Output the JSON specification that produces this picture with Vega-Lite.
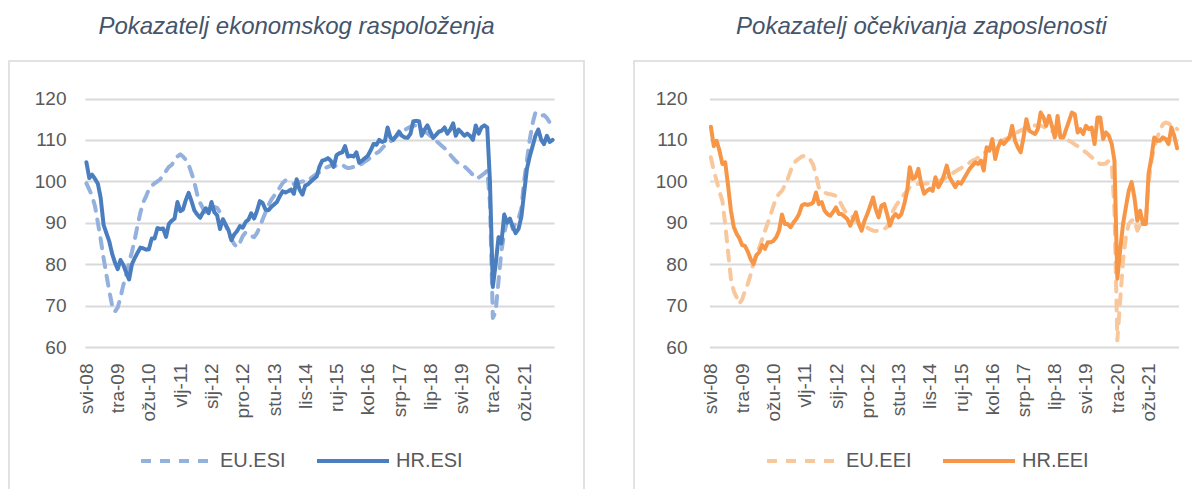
{
"$schema": "https://vega.github.io/schema/vega-lite/v6.json",
"background": "white",
"padding": {"left": 8, "top": 14, "right": 0, "bottom": 0},
"spacing": 48,
"config": {"font": "Liberation Sans", "view": {"stroke": "#d9d9d9", "strokeWidth": 1.5}},
"data": {"values": [
{"d":"2008-05-01","EU_ESI":99.5,"HR_ESI":104.6,"EU_EEI":105.8,"HR_EEI":113.2},
{"d":"2008-06-01","EU_ESI":98,"HR_ESI":100.8,"EU_EEI":102.5,"HR_EEI":108.5},
{"d":"2008-07-01","EU_ESI":96.5,"HR_ESI":101.6,"EU_EEI":100.2,"HR_EEI":109.8},
{"d":"2008-08-01","EU_ESI":94,"HR_ESI":100.6,"EU_EEI":97.5,"HR_EEI":107.4},
{"d":"2008-09-01","EU_ESI":90,"HR_ESI":99.4,"EU_EEI":95.3,"HR_EEI":104.2},
{"d":"2008-10-01","EU_ESI":86,"HR_ESI":96,"EU_EEI":89.7,"HR_EEI":104.6},
{"d":"2008-11-01","EU_ESI":81.5,"HR_ESI":89.5,"EU_EEI":83,"HR_EEI":99},
{"d":"2008-12-01","EU_ESI":77.5,"HR_ESI":87.5,"EU_EEI":76.5,"HR_EEI":93},
{"d":"2009-01-01","EU_ESI":73.5,"HR_ESI":85.5,"EU_EEI":73.5,"HR_EEI":89},
{"d":"2009-02-01","EU_ESI":70,"HR_ESI":82.5,"EU_EEI":72,"HR_EEI":87.3},
{"d":"2009-03-01","EU_ESI":68.5,"HR_ESI":80.5,"EU_EEI":70.4,"HR_EEI":86.3},
{"d":"2009-04-01","EU_ESI":69.5,"HR_ESI":78.8,"EU_EEI":71.5,"HR_EEI":84.6},
{"d":"2009-05-01","EU_ESI":72,"HR_ESI":81,"EU_EEI":73.5,"HR_EEI":84.4},
{"d":"2009-06-01","EU_ESI":75,"HR_ESI":79.8,"EU_EEI":75.3,"HR_EEI":83},
{"d":"2009-07-01","EU_ESI":77.5,"HR_ESI":78,"EU_EEI":77.5,"HR_EEI":81.2},
{"d":"2009-08-01","EU_ESI":80.5,"HR_ESI":76.3,"EU_EEI":80.5,"HR_EEI":80},
{"d":"2009-09-01","EU_ESI":83,"HR_ESI":80,"EU_EEI":82.5,"HR_EEI":82.2},
{"d":"2009-10-01","EU_ESI":86,"HR_ESI":81.5,"EU_EEI":84,"HR_EEI":82.9},
{"d":"2009-11-01","EU_ESI":89.5,"HR_ESI":82.8,"EU_EEI":86,"HR_EEI":84.6},
{"d":"2009-12-01","EU_ESI":92.5,"HR_ESI":84,"EU_EEI":88,"HR_EEI":83.7},
{"d":"2010-01-01","EU_ESI":95,"HR_ESI":83.8,"EU_EEI":90,"HR_EEI":85.3},
{"d":"2010-02-01","EU_ESI":96.5,"HR_ESI":83.5,"EU_EEI":92,"HR_EEI":85.3},
{"d":"2010-03-01","EU_ESI":98,"HR_ESI":83.6,"EU_EEI":94,"HR_EEI":85.6},
{"d":"2010-04-01","EU_ESI":99,"HR_ESI":86.2,"EU_EEI":96,"HR_EEI":86.5},
{"d":"2010-05-01","EU_ESI":99.5,"HR_ESI":86.2,"EU_EEI":97,"HR_EEI":88.1},
{"d":"2010-06-01","EU_ESI":100,"HR_ESI":88.7,"EU_EEI":97.7,"HR_EEI":92},
{"d":"2010-07-01","EU_ESI":100.5,"HR_ESI":88.5,"EU_EEI":99,"HR_EEI":89.7},
{"d":"2010-08-01","EU_ESI":101.5,"HR_ESI":88.6,"EU_EEI":100.5,"HR_EEI":89.7},
{"d":"2010-09-01","EU_ESI":102.5,"HR_ESI":86.6,"EU_EEI":102.5,"HR_EEI":88.9},
{"d":"2010-10-01","EU_ESI":103.5,"HR_ESI":89.7,"EU_EEI":104.2,"HR_EEI":90},
{"d":"2010-11-01","EU_ESI":104,"HR_ESI":90.5,"EU_EEI":105,"HR_EEI":90.9},
{"d":"2010-12-01","EU_ESI":105,"HR_ESI":91,"EU_EEI":105.5,"HR_EEI":92.1},
{"d":"2011-01-01","EU_ESI":106,"HR_ESI":95,"EU_EEI":106,"HR_EEI":94.2},
{"d":"2011-02-01","EU_ESI":106.5,"HR_ESI":92.8,"EU_EEI":106.2,"HR_EEI":94.5},
{"d":"2011-03-01","EU_ESI":106,"HR_ESI":93.2,"EU_EEI":106,"HR_EEI":94.3},
{"d":"2011-04-01","EU_ESI":105.2,"HR_ESI":95.5,"EU_EEI":105.2,"HR_EEI":94.5},
{"d":"2011-05-01","EU_ESI":104,"HR_ESI":97.2,"EU_EEI":104,"HR_EEI":94.9},
{"d":"2011-06-01","EU_ESI":102,"HR_ESI":95.2,"EU_EEI":101.5,"HR_EEI":97.3},
{"d":"2011-07-01","EU_ESI":99.8,"HR_ESI":93,"EU_EEI":98.5,"HR_EEI":94.5},
{"d":"2011-08-01","EU_ESI":96.8,"HR_ESI":92,"EU_EEI":97.5,"HR_EEI":95},
{"d":"2011-09-01","EU_ESI":94.8,"HR_ESI":91.2,"EU_EEI":97.3,"HR_EEI":92.9},
{"d":"2011-10-01","EU_ESI":93.5,"HR_ESI":92.5,"EU_EEI":97,"HR_EEI":92.1},
{"d":"2011-11-01","EU_ESI":92.3,"HR_ESI":93.5,"EU_EEI":96.9,"HR_EEI":91.7},
{"d":"2011-12-01","EU_ESI":92.5,"HR_ESI":92.3,"EU_EEI":96.7,"HR_EEI":92.6},
{"d":"2012-01-01","EU_ESI":93.2,"HR_ESI":95,"EU_EEI":96.5,"HR_EEI":93.7},
{"d":"2012-02-01","EU_ESI":93.8,"HR_ESI":92.5,"EU_EEI":95.5,"HR_EEI":92.1},
{"d":"2012-03-01","EU_ESI":93.6,"HR_ESI":91.8,"EU_EEI":94.3,"HR_EEI":92.1},
{"d":"2012-04-01","EU_ESI":92.5,"HR_ESI":88.5,"EU_EEI":93,"HR_EEI":91.5},
{"d":"2012-05-01","EU_ESI":91,"HR_ESI":90.8,"EU_EEI":92.1,"HR_EEI":90.9},
{"d":"2012-06-01","EU_ESI":89.5,"HR_ESI":89.5,"EU_EEI":91.7,"HR_EEI":89.3},
{"d":"2012-07-01","EU_ESI":87.5,"HR_ESI":88.2,"EU_EEI":91.3,"HR_EEI":90.9},
{"d":"2012-08-01","EU_ESI":86,"HR_ESI":85.8,"EU_EEI":90.5,"HR_EEI":92.5},
{"d":"2012-09-01","EU_ESI":84.8,"HR_ESI":87.2,"EU_EEI":89.9,"HR_EEI":89.7},
{"d":"2012-10-01","EU_ESI":84.1,"HR_ESI":88,"EU_EEI":89.5,"HR_EEI":88.1},
{"d":"2012-11-01","EU_ESI":85.2,"HR_ESI":89.2,"EU_EEI":89,"HR_EEI":90.5},
{"d":"2012-12-01","EU_ESI":86.8,"HR_ESI":88.8,"EU_EEI":88.8,"HR_EEI":92.1},
{"d":"2013-01-01","EU_ESI":87.7,"HR_ESI":90.2,"EU_EEI":88.4,"HR_EEI":94.1},
{"d":"2013-02-01","EU_ESI":87.3,"HR_ESI":90.8,"EU_EEI":88.1,"HR_EEI":96.1},
{"d":"2013-03-01","EU_ESI":86.8,"HR_ESI":92.3,"EU_EEI":88,"HR_EEI":93.3},
{"d":"2013-04-01","EU_ESI":86.5,"HR_ESI":91,"EU_EEI":88.1,"HR_EEI":91.3},
{"d":"2013-05-01","EU_ESI":87.5,"HR_ESI":92.8,"EU_EEI":88.3,"HR_EEI":94.1},
{"d":"2013-06-01","EU_ESI":89,"HR_ESI":95.2,"EU_EEI":88.5,"HR_EEI":94.5},
{"d":"2013-07-01","EU_ESI":90.8,"HR_ESI":94.8,"EU_EEI":89,"HR_EEI":92.1},
{"d":"2013-08-01","EU_ESI":92.5,"HR_ESI":93.2,"EU_EEI":90.5,"HR_EEI":89.3},
{"d":"2013-09-01","EU_ESI":94.2,"HR_ESI":93,"EU_EEI":92.8,"HR_EEI":91.3},
{"d":"2013-10-01","EU_ESI":95.5,"HR_ESI":93.8,"EU_EEI":94,"HR_EEI":92.1},
{"d":"2013-11-01","EU_ESI":96.5,"HR_ESI":94.4,"EU_EEI":95,"HR_EEI":91.3},
{"d":"2013-12-01","EU_ESI":97.3,"HR_ESI":95,"EU_EEI":96,"HR_EEI":92.1},
{"d":"2014-01-01","EU_ESI":98.5,"HR_ESI":96.4,"EU_EEI":96.9,"HR_EEI":94.5},
{"d":"2014-02-01","EU_ESI":99.6,"HR_ESI":97.6,"EU_EEI":97.8,"HR_EEI":97.7},
{"d":"2014-03-01","EU_ESI":100.2,"HR_ESI":97.3,"EU_EEI":98.6,"HR_EEI":103.4},
{"d":"2014-04-01","EU_ESI":100,"HR_ESI":97.6,"EU_EEI":98.9,"HR_EEI":100.6},
{"d":"2014-05-01","EU_ESI":99.5,"HR_ESI":98,"EU_EEI":99.2,"HR_EEI":101},
{"d":"2014-06-01","EU_ESI":99.4,"HR_ESI":97,"EU_EEI":99.4,"HR_EEI":103},
{"d":"2014-07-01","EU_ESI":99.5,"HR_ESI":100.5,"EU_EEI":99.4,"HR_EEI":99.4},
{"d":"2014-08-01","EU_ESI":99.8,"HR_ESI":98,"EU_EEI":99.4,"HR_EEI":97},
{"d":"2014-09-01","EU_ESI":100,"HR_ESI":96.8,"EU_EEI":99.5,"HR_EEI":97.7},
{"d":"2014-10-01","EU_ESI":99.8,"HR_ESI":99,"EU_EEI":99.6,"HR_EEI":98.2},
{"d":"2014-11-01","EU_ESI":100.2,"HR_ESI":99.3,"EU_EEI":99.8,"HR_EEI":97.7},
{"d":"2014-12-01","EU_ESI":100.8,"HR_ESI":100,"EU_EEI":100,"HR_EEI":101},
{"d":"2015-01-01","EU_ESI":101.3,"HR_ESI":100.6,"EU_EEI":100.1,"HR_EEI":98.6},
{"d":"2015-02-01","EU_ESI":101.8,"HR_ESI":101.2,"EU_EEI":100.3,"HR_EEI":99.8},
{"d":"2015-03-01","EU_ESI":102.2,"HR_ESI":103.5,"EU_EEI":100.6,"HR_EEI":101.4},
{"d":"2015-04-01","EU_ESI":102.8,"HR_ESI":105,"EU_EEI":101,"HR_EEI":103.8},
{"d":"2015-05-01","EU_ESI":103.2,"HR_ESI":105.2,"EU_EEI":101.4,"HR_EEI":101},
{"d":"2015-06-01","EU_ESI":103.5,"HR_ESI":105.6,"EU_EEI":101.9,"HR_EEI":99.8},
{"d":"2015-07-01","EU_ESI":103.8,"HR_ESI":105,"EU_EEI":102.4,"HR_EEI":98.6},
{"d":"2015-08-01","EU_ESI":104,"HR_ESI":103.5,"EU_EEI":102.8,"HR_EEI":99.8},
{"d":"2015-09-01","EU_ESI":103.6,"HR_ESI":106.3,"EU_EEI":103.2,"HR_EEI":99.4},
{"d":"2015-10-01","EU_ESI":103.8,"HR_ESI":106.8,"EU_EEI":103.6,"HR_EEI":100.6},
{"d":"2015-11-01","EU_ESI":104,"HR_ESI":107,"EU_EEI":104,"HR_EEI":101.8},
{"d":"2015-12-01","EU_ESI":103.5,"HR_ESI":108.5,"EU_EEI":104.5,"HR_EEI":103},
{"d":"2016-01-01","EU_ESI":103.2,"HR_ESI":106,"EU_EEI":105,"HR_EEI":103.8},
{"d":"2016-02-01","EU_ESI":103.3,"HR_ESI":106.2,"EU_EEI":105.3,"HR_EEI":104.6},
{"d":"2016-03-01","EU_ESI":103.5,"HR_ESI":106,"EU_EEI":105.7,"HR_EEI":104.2},
{"d":"2016-04-01","EU_ESI":103.4,"HR_ESI":107,"EU_EEI":106.2,"HR_EEI":105},
{"d":"2016-05-01","EU_ESI":103.8,"HR_ESI":104.5,"EU_EEI":106.8,"HR_EEI":102.6},
{"d":"2016-06-01","EU_ESI":104.3,"HR_ESI":105,"EU_EEI":107.3,"HR_EEI":108.2},
{"d":"2016-07-01","EU_ESI":104.8,"HR_ESI":105.6,"EU_EEI":107.8,"HR_EEI":107.4},
{"d":"2016-08-01","EU_ESI":105.2,"HR_ESI":106.2,"EU_EEI":108.3,"HR_EEI":110.2},
{"d":"2016-09-01","EU_ESI":105.8,"HR_ESI":107.5,"EU_EEI":108.7,"HR_EEI":105.4},
{"d":"2016-10-01","EU_ESI":106.3,"HR_ESI":109,"EU_EEI":109.1,"HR_EEI":108.2},
{"d":"2016-11-01","EU_ESI":106.8,"HR_ESI":108.8,"EU_EEI":109.6,"HR_EEI":109.8},
{"d":"2016-12-01","EU_ESI":107.2,"HR_ESI":110,"EU_EEI":110,"HR_EEI":109},
{"d":"2017-01-01","EU_ESI":108,"HR_ESI":109.5,"EU_EEI":110.3,"HR_EEI":109.8},
{"d":"2017-02-01","EU_ESI":108.7,"HR_ESI":109.8,"EU_EEI":110.6,"HR_EEI":110.6},
{"d":"2017-03-01","EU_ESI":109.2,"HR_ESI":113,"EU_EEI":111,"HR_EEI":113.4},
{"d":"2017-04-01","EU_ESI":109.6,"HR_ESI":110.5,"EU_EEI":111.5,"HR_EEI":109.8},
{"d":"2017-05-01","EU_ESI":110.3,"HR_ESI":110,"EU_EEI":111.9,"HR_EEI":108.2},
{"d":"2017-06-01","EU_ESI":110.8,"HR_ESI":111,"EU_EEI":112.3,"HR_EEI":107},
{"d":"2017-07-01","EU_ESI":111.3,"HR_ESI":112,"EU_EEI":112.6,"HR_EEI":110.6},
{"d":"2017-08-01","EU_ESI":111.8,"HR_ESI":111,"EU_EEI":112.9,"HR_EEI":115},
{"d":"2017-09-01","EU_ESI":112.4,"HR_ESI":110.6,"EU_EEI":113.2,"HR_EEI":112.2},
{"d":"2017-10-01","EU_ESI":112.8,"HR_ESI":110.5,"EU_EEI":113.4,"HR_EEI":111.8},
{"d":"2017-11-01","EU_ESI":113.2,"HR_ESI":111.5,"EU_EEI":113.5,"HR_EEI":111.4},
{"d":"2017-12-01","EU_ESI":113.4,"HR_ESI":114.5,"EU_EEI":113.5,"HR_EEI":112.6},
{"d":"2018-01-01","EU_ESI":113.5,"HR_ESI":114.6,"EU_EEI":113.4,"HR_EEI":116.6},
{"d":"2018-02-01","EU_ESI":113.2,"HR_ESI":114.5,"EU_EEI":113.2,"HR_EEI":115.4},
{"d":"2018-03-01","EU_ESI":112.6,"HR_ESI":111,"EU_EEI":112.8,"HR_EEI":113.4},
{"d":"2018-04-01","EU_ESI":112,"HR_ESI":112.5,"EU_EEI":112.4,"HR_EEI":115.8},
{"d":"2018-05-01","EU_ESI":111.6,"HR_ESI":113.5,"EU_EEI":112.1,"HR_EEI":113.4},
{"d":"2018-06-01","EU_ESI":111,"HR_ESI":112,"EU_EEI":111.8,"HR_EEI":110.6},
{"d":"2018-07-01","EU_ESI":110.5,"HR_ESI":110.5,"EU_EEI":111.4,"HR_EEI":115.8},
{"d":"2018-08-01","EU_ESI":109.8,"HR_ESI":111.2,"EU_EEI":111,"HR_EEI":110.6},
{"d":"2018-09-01","EU_ESI":109.2,"HR_ESI":112,"EU_EEI":110.6,"HR_EEI":110.6},
{"d":"2018-10-01","EU_ESI":108.6,"HR_ESI":112.2,"EU_EEI":110.2,"HR_EEI":112.6},
{"d":"2018-11-01","EU_ESI":108,"HR_ESI":113,"EU_EEI":109.8,"HR_EEI":114.6},
{"d":"2018-12-01","EU_ESI":107.3,"HR_ESI":111.5,"EU_EEI":109.4,"HR_EEI":116.6},
{"d":"2019-01-01","EU_ESI":106.4,"HR_ESI":112.5,"EU_EEI":108.9,"HR_EEI":116.2},
{"d":"2019-02-01","EU_ESI":105.6,"HR_ESI":114,"EU_EEI":108.5,"HR_EEI":111.8},
{"d":"2019-03-01","EU_ESI":104.9,"HR_ESI":111,"EU_EEI":108,"HR_EEI":112.6},
{"d":"2019-04-01","EU_ESI":104.3,"HR_ESI":112.5,"EU_EEI":107.5,"HR_EEI":111.4},
{"d":"2019-05-01","EU_ESI":103.9,"HR_ESI":111.8,"EU_EEI":107,"HR_EEI":113.4},
{"d":"2019-06-01","EU_ESI":103.6,"HR_ESI":111,"EU_EEI":106.4,"HR_EEI":112.6},
{"d":"2019-07-01","EU_ESI":103,"HR_ESI":111.5,"EU_EEI":105.8,"HR_EEI":113},
{"d":"2019-08-01","EU_ESI":102.3,"HR_ESI":111,"EU_EEI":105.2,"HR_EEI":109},
{"d":"2019-09-01","EU_ESI":101.5,"HR_ESI":110,"EU_EEI":104.6,"HR_EEI":115.4},
{"d":"2019-10-01","EU_ESI":100.7,"HR_ESI":113.5,"EU_EEI":104.2,"HR_EEI":115.4},
{"d":"2019-11-01","EU_ESI":100.9,"HR_ESI":111.5,"EU_EEI":104.2,"HR_EEI":110.2},
{"d":"2019-12-01","EU_ESI":101.4,"HR_ESI":113,"EU_EEI":104.3,"HR_EEI":111.8},
{"d":"2020-01-01","EU_ESI":101.9,"HR_ESI":113.5,"EU_EEI":105,"HR_EEI":111},
{"d":"2020-02-01","EU_ESI":102.6,"HR_ESI":113,"EU_EEI":104.2,"HR_EEI":109},
{"d":"2020-03-01","EU_ESI":95,"HR_ESI":100,"EU_EEI":93,"HR_EEI":105},
{"d":"2020-04-01","EU_ESI":67,"HR_ESI":74.5,"EU_EEI":61.6,"HR_EEI":76.5},
{"d":"2020-05-01","EU_ESI":68.5,"HR_ESI":80,"EU_EEI":71.2,"HR_EEI":83.3},
{"d":"2020-06-01","EU_ESI":76,"HR_ESI":86.5,"EU_EEI":80.8,"HR_EEI":89.7},
{"d":"2020-07-01","EU_ESI":83,"HR_ESI":85,"EU_EEI":86.5,"HR_EEI":93.7},
{"d":"2020-08-01","EU_ESI":87.5,"HR_ESI":92,"EU_EEI":89.7,"HR_EEI":97.7},
{"d":"2020-09-01","EU_ESI":90.5,"HR_ESI":90,"EU_EEI":90.5,"HR_EEI":99.8},
{"d":"2020-10-01","EU_ESI":91,"HR_ESI":91,"EU_EEI":90.8,"HR_EEI":96.1},
{"d":"2020-11-01","EU_ESI":88.5,"HR_ESI":89,"EU_EEI":88.1,"HR_EEI":90.5},
{"d":"2020-12-01","EU_ESI":90,"HR_ESI":87.5,"EU_EEI":89.5,"HR_EEI":92.9},
{"d":"2021-01-01","EU_ESI":91,"HR_ESI":88.5,"EU_EEI":90.5,"HR_EEI":89.7},
{"d":"2021-02-01","EU_ESI":93.5,"HR_ESI":91.5,"EU_EEI":91.3,"HR_EEI":89.7},
{"d":"2021-03-01","EU_ESI":100,"HR_ESI":97,"EU_EEI":99.4,"HR_EEI":101.8},
{"d":"2021-04-01","EU_ESI":105,"HR_ESI":103,"EU_EEI":105,"HR_EEI":105.8},
{"d":"2021-05-01","EU_ESI":110,"HR_ESI":106,"EU_EEI":108.2,"HR_EEI":110.6},
{"d":"2021-06-01","EU_ESI":114,"HR_ESI":108.5,"EU_EEI":110.6,"HR_EEI":109.8},
{"d":"2021-07-01","EU_ESI":116.6,"HR_ESI":111,"EU_EEI":112.2,"HR_EEI":109.8},
{"d":"2021-08-01","EU_ESI":116.3,"HR_ESI":112.5,"EU_EEI":113.8,"HR_EEI":110.6},
{"d":"2021-09-01","EU_ESI":115.8,"HR_ESI":110,"EU_EEI":114.2,"HR_EEI":110.2},
{"d":"2021-10-01","EU_ESI":116,"HR_ESI":109,"EU_EEI":114,"HR_EEI":109},
{"d":"2021-11-01","EU_ESI":115.3,"HR_ESI":111,"EU_EEI":113.4,"HR_EEI":113},
{"d":"2021-12-01","EU_ESI":114.2,"HR_ESI":109.5,"EU_EEI":113.4,"HR_EEI":111},
{"d":"2022-01-01","EU_ESI":112.6,"HR_ESI":110,"EU_EEI":112.6,"HR_EEI":108}
]},
"resolve": {"scale": {"x": "independent", "y": "independent", "color": "independent", "strokeDash": "independent"}, "legend": {"color": "independent", "strokeDash": "independent"}},
"hconcat": [
{
"width": 575, "height": 440,
"title": {"text": "Pokazatelj ekonomskog raspoloženja", "anchor": "middle", "frame": "group", "fontSize": 24, "fontStyle": "italic", "fontWeight": "normal", "color": "#44546a", "baseline": "alphabetic", "offset": 3},
"transform": [{"fold": ["EU_ESI", "HR_ESI"], "as": ["series", "value"]}],
"mark": {"type": "line", "strokeWidth": 4, "strokeCap": "round", "strokeJoin": "round"},
"encoding": {
"x": {"field": "d", "type": "temporal",
 "scale": {"type": "utc", "nice": false, "domain": [{"year": 2008, "month": 4, "date": 16, "utc": true}, {"year": 2022, "month": 1, "date": 16, "utc": true}], "range": [76, 545]},
 "axis": {"title": null, "grid": false, "ticks": false, "tickSize": 0, "domain": false, "labelAngle": -90, "labelAlign": "right", "labelBaseline": "middle", "labelPadding": -138, "labelFontSize": 19, "labelColor": "#595959", "labelOverlap": false, "labelFlush": false, "labelBound": false,
  "values": [{"year":2008,"month":5,"date":1,"utc":true},{"year":2009,"month":4,"date":1,"utc":true},{"year":2010,"month":3,"date":1,"utc":true},{"year":2011,"month":2,"date":1,"utc":true},{"year":2012,"month":1,"date":1,"utc":true},{"year":2012,"month":12,"date":1,"utc":true},{"year":2013,"month":11,"date":1,"utc":true},{"year":2014,"month":10,"date":1,"utc":true},{"year":2015,"month":9,"date":1,"utc":true},{"year":2016,"month":8,"date":1,"utc":true},{"year":2017,"month":7,"date":1,"utc":true},{"year":2018,"month":6,"date":1,"utc":true},{"year":2019,"month":5,"date":1,"utc":true},{"year":2020,"month":4,"date":1,"utc":true},{"year":2021,"month":3,"date":1,"utc":true}],
  "labelExpr": "['sij','vlj','ožu','tra','svi','lip','srp','kol','ruj','lis','stu','pro'][utcmonth(datum.value)] + '-' + utcFormat(datum.value, '%y')"}},
"y": {"field": "value", "type": "quantitative",
 "scale": {"domain": [60, 120], "range": [286, 37.5], "nice": false, "zero": false},
 "axis": {"title": null, "values": [60, 70, 80, 90, 100, 110, 120], "labelPadding": -57, "ticks": false, "tickSize": 0, "domain": false, "grid": true, "gridColor": "#d9d9d9", "gridWidth": 2, "labelFontSize": 19, "labelColor": "#595959"}},
"color": {"field": "series", "type": "nominal", "scale": {"domain": ["EU_ESI", "HR_ESI"], "range": ["#93b1dc", "#4a7ebf"]},
 "legend": {"title": null, "orient": "none", "legendX": 130, "legendY": 362, "direction": "horizontal", "symbolType": "stroke", "symbolSize": 5184, "symbolStrokeWidth": 4, "labelFontSize": 20, "labelColor": "#595959", "labelOffset": 5, "columnPadding": 23, "padding": 0, "labelExpr": "replace(datum.label, '_', '.')"}},
"strokeDash": {"field": "series", "type": "nominal", "scale": {"domain": ["EU_ESI", "HR_ESI"], "range": [[10, 9], [1, 0]]},
 "legend": {"title": null, "orient": "none", "legendX": 130, "legendY": 362, "direction": "horizontal", "symbolType": "stroke", "symbolSize": 5184, "symbolStrokeWidth": 4, "labelFontSize": 20, "labelColor": "#595959", "labelOffset": 5, "columnPadding": 23, "padding": 0, "labelExpr": "replace(datum.label, '_', '.')"}}
}
},
{
"width": 575, "height": 440,
"title": {"text": "Pokazatelj očekivanja zaposlenosti", "anchor": "middle", "frame": "group", "fontSize": 24, "fontStyle": "italic", "fontWeight": "normal", "color": "#44546a", "baseline": "alphabetic", "offset": 3},
"transform": [{"fold": ["EU_EEI", "HR_EEI"], "as": ["series", "value"]}],
"mark": {"type": "line", "strokeWidth": 4, "strokeCap": "round", "strokeJoin": "round"},
"encoding": {
"x": {"field": "d", "type": "temporal",
 "scale": {"type": "utc", "nice": false, "domain": [{"year": 2008, "month": 4, "date": 16, "utc": true}, {"year": 2022, "month": 1, "date": 16, "utc": true}], "range": [75.5, 544.5]},
 "axis": {"title": null, "grid": false, "ticks": false, "tickSize": 0, "domain": false, "labelAngle": -90, "labelAlign": "right", "labelBaseline": "middle", "labelPadding": -138, "labelFontSize": 19, "labelColor": "#595959", "labelOverlap": false, "labelFlush": false, "labelBound": false,
  "values": [{"year":2008,"month":5,"date":1,"utc":true},{"year":2009,"month":4,"date":1,"utc":true},{"year":2010,"month":3,"date":1,"utc":true},{"year":2011,"month":2,"date":1,"utc":true},{"year":2012,"month":1,"date":1,"utc":true},{"year":2012,"month":12,"date":1,"utc":true},{"year":2013,"month":11,"date":1,"utc":true},{"year":2014,"month":10,"date":1,"utc":true},{"year":2015,"month":9,"date":1,"utc":true},{"year":2016,"month":8,"date":1,"utc":true},{"year":2017,"month":7,"date":1,"utc":true},{"year":2018,"month":6,"date":1,"utc":true},{"year":2019,"month":5,"date":1,"utc":true},{"year":2020,"month":4,"date":1,"utc":true},{"year":2021,"month":3,"date":1,"utc":true}],
  "labelExpr": "['sij','vlj','ožu','tra','svi','lip','srp','kol','ruj','lis','stu','pro'][utcmonth(datum.value)] + '-' + utcFormat(datum.value, '%y')"}},
"y": {"field": "value", "type": "quantitative",
 "scale": {"domain": [60, 120], "range": [286, 37.5], "nice": false, "zero": false},
 "axis": {"title": null, "values": [60, 70, 80, 90, 100, 110, 120], "labelPadding": -53, "ticks": false, "tickSize": 0, "domain": false, "grid": true, "gridColor": "#d9d9d9", "gridWidth": 2, "labelFontSize": 19, "labelColor": "#595959"}},
"color": {"field": "series", "type": "nominal", "scale": {"domain": ["EU_EEI", "HR_EEI"], "range": ["#f9c79c", "#f79646"]},
 "legend": {"title": null, "orient": "none", "legendX": 131, "legendY": 362, "direction": "horizontal", "symbolType": "stroke", "symbolSize": 5184, "symbolStrokeWidth": 4, "labelFontSize": 20, "labelColor": "#595959", "labelOffset": 5, "columnPadding": 23, "padding": 0, "labelExpr": "replace(datum.label, '_', '.')"}},
"strokeDash": {"field": "series", "type": "nominal", "scale": {"domain": ["EU_EEI", "HR_EEI"], "range": [[10, 9], [1, 0]]},
 "legend": {"title": null, "orient": "none", "legendX": 131, "legendY": 362, "direction": "horizontal", "symbolType": "stroke", "symbolSize": 5184, "symbolStrokeWidth": 4, "labelFontSize": 20, "labelColor": "#595959", "labelOffset": 5, "columnPadding": 23, "padding": 0, "labelExpr": "replace(datum.label, '_', '.')"}}
}
}
]
}
